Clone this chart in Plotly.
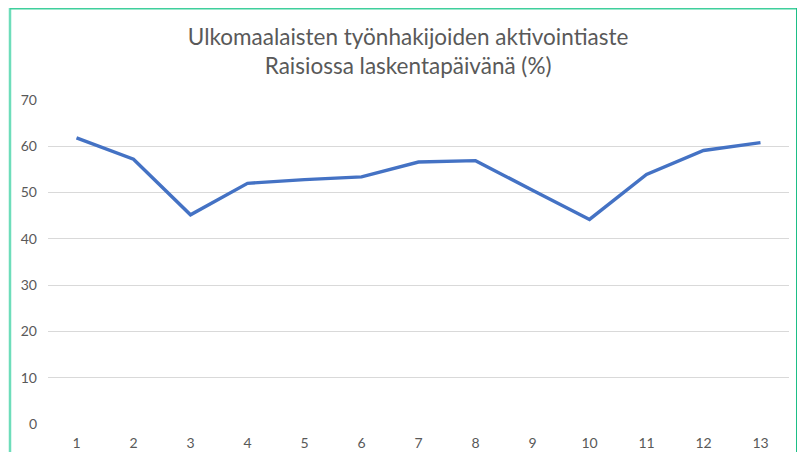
import plotly.graph_objects as go

categories = [1, 2, 3, 4, 5, 6, 7, 8, 9, 10, 11, 12, 13]
values = [61.8, 57.2, 45.2, 52.0, 52.8, 53.4, 56.6, 56.9, 50.5, 44.2, 53.9, 59.1, 60.8]
y_ticks = [0, 10, 20, 30, 40, 50, 60, 70]
title_lines = ["Ulkomaalaisten työnhakijoiden aktivointiaste", "Raisiossa laskentapäivänä (%)"]

# The page body has an 8px default margin, so the figure is sized to fit the window.
W, H = 797, 444
L, R, T, B = 40, 16, 92, 28

fig = go.Figure()
fig.add_trace(go.Scatter(
    x=categories, y=values, mode="lines",
    line=dict(color="#4472C4", width=3.4), hoverinfo="skip",
))

fig.update_layout(
    width=W, height=H,
    margin=dict(l=L, r=R, t=T, b=B, autoexpand=False),
    paper_bgcolor="white", plot_bgcolor="white",
    showlegend=False,
    font=dict(family="Lato, Open Sans, sans-serif", color="#595959", size=14),
    title=dict(
        text="<br>".join(title_lines),
        x=0.502, xanchor="center", y=1 - 37 / H, yanchor="middle",
        font=dict(size=22.5, color="#595959", family="Lato, Open Sans, sans-serif"),
    ),
    xaxis=dict(
        range=[0.5, 13.5], tickmode="array", tickvals=categories,
        ticktext=[str(c) for c in categories],
        showgrid=False, zeroline=False, showline=False, ticks="",
        tickfont=dict(size=14, color="#595959"),
        ticklabelstandoff=9,
    ),
    yaxis=dict(
        range=[0, 70], tickmode="array", tickvals=y_ticks,
        showgrid=True, gridcolor="#D9D9D9", gridwidth=1,
        zeroline=False, showline=False, ticks="",
        tickfont=dict(size=14, color="#595959"),
        ticklabelstandoff=10,
    ),
)

plot_w = W - L - R
plot_h = H - T - B
def px_to_paper_x(px):
    return (px - L) / plot_w
def px_to_paper_y(py):
    return (H - B - py) / plot_h

fig.add_shape(type="line", xref="paper", yref="paper",
              x0=px_to_paper_x(2), x1=px_to_paper_x(2),
              y0=px_to_paper_y(460), y1=px_to_paper_y(0),
              line=dict(color="#6EDDBA", width=2.5))
fig.add_shape(type="line", xref="paper", yref="paper",
              x0=px_to_paper_x(2), x1=px_to_paper_x(789),
              y0=px_to_paper_y(0.5), y1=px_to_paper_y(0.5),
              line=dict(color="#3FCF9C", width=2))
fig.add_shape(type="line", xref="paper", yref="paper",
              x0=px_to_paper_x(789), x1=px_to_paper_x(789),
              y0=px_to_paper_y(460), y1=px_to_paper_y(0),
              line=dict(color="#1DBF86", width=2))

fig.write_html("out.html")
